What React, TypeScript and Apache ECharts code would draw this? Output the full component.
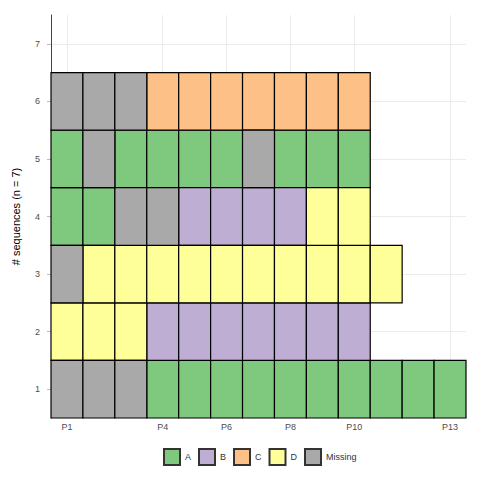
import React, { useEffect, useRef } from "react";
import * as echarts from "echarts";

const states = ["A", "B", "C", "D", "Missing"];
const stateColors = ["#7FC97F", "#BEAED4", "#FDC086", "#FFFF99", "#A9A9A9"];
const positions = ["P1", "P2", "P3", "P4", "P5", "P6", "P7", "P8", "P9", "P10", "P11", "P12", "P13"];
const xTickPositions = [1, 4, 6, 8, 10, 13];
const yTicks = [1, 2, 3, 4, 5, 6, 7];

// sequences, bottom (1) to top (6); "M" = Missing
const seq1 = ["M", "M", "M", "A", "A", "A", "A", "A", "A", "A", "A", "A", "A"];
const seq2 = ["D", "D", "D", "B", "B", "B", "B", "B", "B", "B"];
const seq3 = ["M", "D", "D", "D", "D", "D", "D", "D", "D", "D", "D"];
const seq4 = ["A", "A", "M", "M", "B", "B", "B", "B", "D", "D"];
const seq5 = ["A", "M", "A", "A", "A", "A", "M", "A", "A", "A"];
const seq6 = ["M", "M", "M", "C", "C", "C", "C", "C", "C", "C"];
const sequences = [seq1, seq2, seq3, seq4, seq5, seq6];

const codeToState = (c: string) => (c === "M" ? "Missing" : c);

export default function App() {
  const ref = useRef<HTMLDivElement>(null);
  useEffect(() => {
    if (!ref.current) return;
    const chart = echarts.init(ref.current, undefined, { renderer: "svg" });

    const renderItem = (params: any, api: any) => {
      const x = api.value(0);
      const y = api.value(1);
      const p1 = api.coord([x - 0.5, y + 0.5]);
      const p2 = api.coord([x + 0.5, y - 0.5]);
      return {
        type: "rect",
        shape: { x: p1[0], y: p1[1], width: p2[0] - p1[0], height: p2[1] - p1[1] },
        style: { fill: api.visual("color"), stroke: "#000", lineWidth: 1.2 },
      };
    };

    const series = states.map((s, si) => {
      const data: number[][] = [];
      sequences.forEach((row, ri) => {
        row.forEach((c, ci) => {
          if (codeToState(c) === s) data.push([ci + 1, ri + 1]);
        });
      });
      return {
        name: s,
        type: "custom",
        renderItem,
        data,
        itemStyle: { color: stateColors[si], borderColor: "#333", borderWidth: 1.2 },
        encode: { x: 0, y: 1 },
      };
    });

    chart.setOption({
      animation: false,
      backgroundColor: "#fff",
      textStyle: { fontFamily: "Liberation Sans, Arial, sans-serif" },
      grid: { left: 51, right: 14, top: 15, bottom: 62, containLabel: false },
      xAxis: {
        type: "value",
        min: 0.5,
        max: positions.length + 0.5,
        axisLine: { show: false },
        axisTick: { show: false, customValues: xTickPositions },
        axisLabel: {
          customValues: xTickPositions,
          formatter: (v: number) => positions[Math.round(v) - 1],
          color: "#4d4d4d",
          fontSize: 9,
          margin: 4,
        },
        splitLine: { show: true, lineStyle: { color: "#EBEBEB", width: 1 } },
      },
      yAxis: {
        type: "value",
        min: 0.5,
        max: 7.5,
        name: "# sequences (n = 7)",
        nameLocation: "middle",
        nameGap: 30,
        nameTextStyle: { color: "#000", fontSize: 11 },
        axisLine: { show: true, lineStyle: { color: "#444", width: 1 } },
        axisTick: { show: true, length: 4, customValues: yTicks, lineStyle: { color: "#bbb" } },
        axisLabel: { customValues: yTicks, color: "#4d4d4d", fontSize: 9, margin: 11 },
        splitLine: { show: true, lineStyle: { color: "#EBEBEB", width: 1 } },
      },
      legend: {
        data: states,
        top: 443,
        left: 158,
        icon: "rect",
        itemWidth: 16,
        itemHeight: 16,
        itemGap: 7,
        textStyle: { fontSize: 9, color: "#333" },
      },
      series,
    });
    return () => chart.dispose();
  }, []);
  return <div ref={ref} style={{ width: 480, height: 480, position: "absolute", left: 0, top: 0 }} />;
}
